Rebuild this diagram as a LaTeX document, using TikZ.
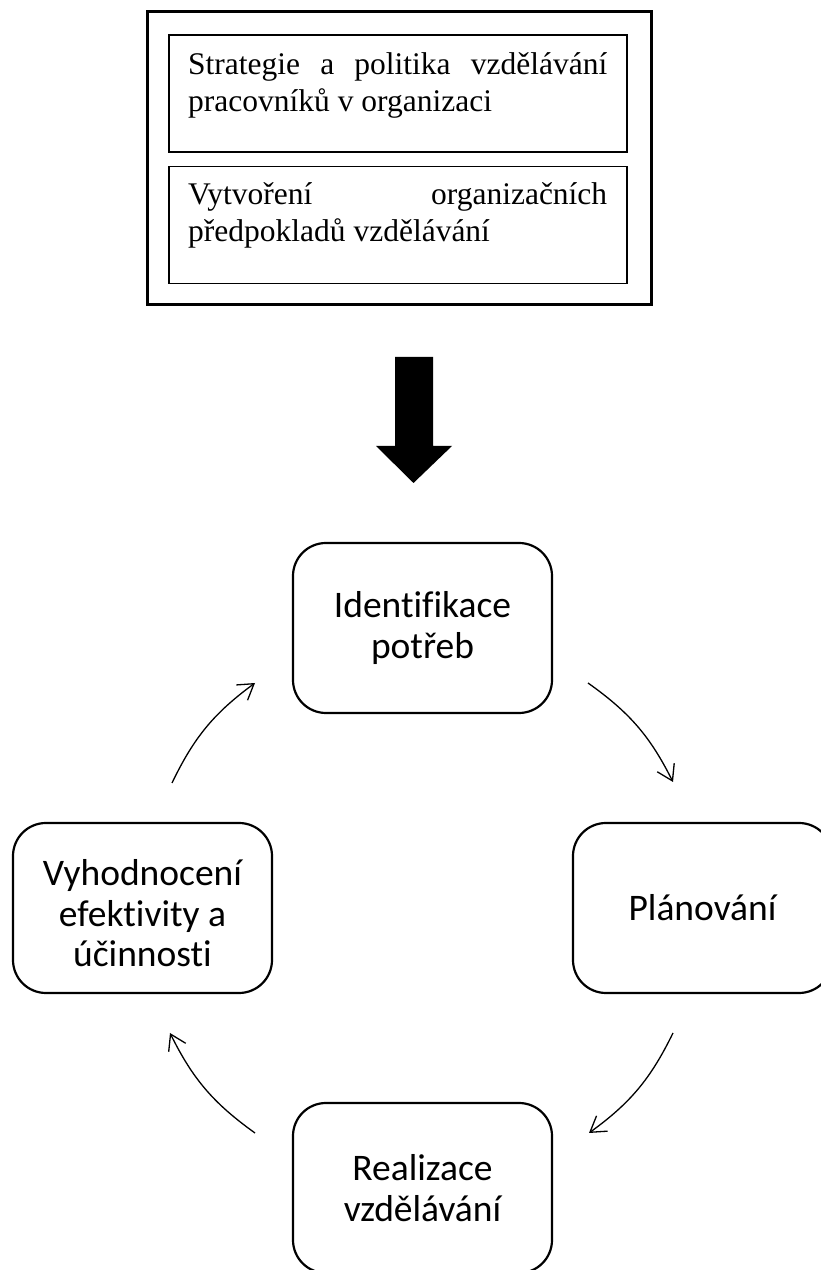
\documentclass[tikz,border=0pt]{standalone}
\usepackage{fontspec}
\setmainfont{Liberation Serif}
\newfontfamily\calfont[Ligatures=NoCommon]{Carlito}
\usetikzlibrary{arrows.meta}
\begin{document}
\begin{tikzpicture}[x=1pt,y=1pt,
  outerbox/.style={draw, line width=3pt, minimum width=504pt, minimum height=293pt, inner sep=0pt},
  innerbox/.style={draw, line width=1.2pt, minimum width=458pt, minimum height=117pt, inner sep=0pt},
  serifline/.style={anchor=base west, inner sep=0pt, font=\fontsize{31.5}{37}\selectfont},
  stage/.style={draw, line width=2.2pt, rounded corners=33pt, minimum width=259pt, minimum height=170pt, align=center, inner sep=0pt, font=\calfont\fontsize{37.5}{40.5}\selectfont},
  cyc/.style={line width=1.3pt, -{Straight Barb[length=15pt,width=19pt]}},
]
\useasboundingbox (0,0) rectangle (821,1270);
\clip (0,0) rectangle (821,1270);
% top block
\node[outerbox] (outer) at (399,1111.5) {};
\node[innerbox] (b1) at (398,1176.5) {};
\node[innerbox] (b2) at (398,1045) {};
\node[serifline] (t1) at (188,1195) {\parbox[t]{419pt}{\makebox[419pt][s]{Strategie a politika vzdělávání}\par pracovníků v organizaci}};
\node[serifline] (t2) at (188,1065) {\parbox[t]{419pt}{\makebox[419pt][s]{Vytvoření organizačních}\par předpokladů vzdělávání}};
% big arrow
\coordinate (ba) at (414,913);
\fill (395,913) -- (433,913) -- (433,824) -- (452,824) -- (413.5,787) -- (376,824) -- (395,824) -- cycle;
% cycle stages
\node[stage] (ident) at (422.5,642) {Identifikace\\potřeb};
\node[stage] (plan) at (702.5,362) {Plánování};
\node[stage] (vyh) at (142.5,362) {\rule{0pt}{37pt}Vyhodnocení\\efektivity a\\účinnosti};
\node[stage] (real) at (422.5,82) {Realizace\\vzdělávání};
% cycle arrows
\coordinate (a1s) at (172,487);
\coordinate (a1e) at (255,587);
\coordinate (a2s) at (588,587);
\coordinate (a2e) at (673,488);
\coordinate (a3s) at (673,237);
\coordinate (a3e) at (589,137);
\coordinate (a4s) at (255,137);
\coordinate (a4e) at (170,237);
\draw[cyc] (a1s) to[bend left=14] (a1e);
\draw[cyc] (a2s) to[bend left=14] (a2e);
\draw[cyc] (a3s) to[bend left=14] (a3e);
\draw[cyc] (a4s) to[bend left=14] (a4e);
\end{tikzpicture}
\end{document}
